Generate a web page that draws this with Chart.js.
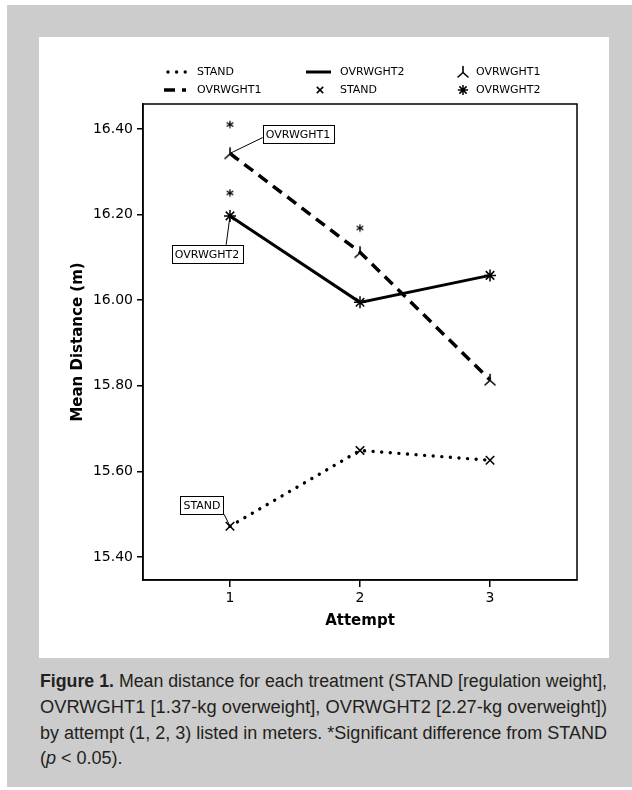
<!DOCTYPE html>
<html><head><meta charset="utf-8">
<script src="https://cdn.jsdelivr.net/npm/chart.js@4/dist/chart.umd.min.js"></script>
<style>
html,body{margin:0;padding:0;background:#fff;width:632px;height:790px;overflow:hidden;}
#gray{position:absolute;left:7px;top:5px;width:625px;height:782px;background:#cccccc;}
#panel{position:absolute;left:39px;top:37px;width:570px;height:621px;background:#fff;}
#wrap{position:absolute;left:0;top:0;width:632px;height:660px;}
.cap{position:absolute;left:40px;font-family:"Liberation Sans",Arial,sans-serif;font-size:18px;line-height:20px;color:#231f20;white-space:nowrap;transform-origin:0 50%;display:inline-block;}
</style></head>
<body>
<div id="gray"></div>
<div id="panel"></div>
<div id="wrap"><canvas id="c" width="632" height="660"></canvas></div>
<div class="cap fit" style="top:671px"><b>Figure 1.</b> Mean distance for each treatment (STAND [regulation weight],</div>
<div class="cap fit" style="top:697px">OVRWGHT1 [1.37-kg overweight], OVRWGHT2 [2.27-kg overweight])</div>
<div class="cap fit" style="top:723px">by attempt (1, 2, 3) listed in meters. *Significant difference from STAND</div>
<div class="cap sc" style="top:748px">(<i>p</i> &lt; 0.05).</div>
<script>
// ---- data ----
const attempts = [1, 2, 3];
const standMeans = [15.472, 15.649, 15.626];
const ovrwght1Means = [16.343, 16.112, 15.814];
const ovrwght2Means = [16.197, 15.995, 16.058];
const sigAttempts = [1, 1, 2];
const sigValues = [16.41, 16.25, 16.168];
const yTickValues = [15.40, 15.60, 15.80, 16.00, 16.20, 16.40];
const xTickValues = [1, 2, 3];
const seriesNames = ['STAND', 'OVRWGHT1', 'OVRWGHT2'];

// fit caption lines
let capScale = 1;
document.querySelectorAll('.cap.fit').forEach(el => {
  const w = el.getBoundingClientRect().width;
  capScale = 567 / w;
  el.style.transform = 'scaleX(' + capScale + ')';
});
document.querySelectorAll('.cap.sc').forEach(el => { el.style.transform = 'scaleX(' + capScale + ')'; });

// custom marker for OVRWGHT1 (inverted Y)
function makeOvr1Marker() {
  const m = document.createElement('canvas');
  m.width = 14; m.height = 14;
  const c = m.getContext('2d');
  c.strokeStyle = '#000'; c.lineWidth = 1.6; c.lineCap = 'round';
  c.beginPath();
  c.moveTo(7, 7.5); c.lineTo(7, 1.5);
  c.moveTo(7, 7.5); c.lineTo(2, 12);
  c.moveTo(7, 7.5); c.lineTo(12, 12);
  c.stroke();
  return m;
}
function makeAsterisk() {
  const m = document.createElement('canvas');
  m.width = 14; m.height = 14;
  const c = m.getContext('2d');
  c.fillStyle = '#000';
  c.font = 'bold 15px "DejaVu Sans"';
  c.textAlign = 'center'; c.textBaseline = 'alphabetic';
  c.fillText('*', 7, 7 + 8);
  return m;
}
const ovr1Marker = makeOvr1Marker();
const asterisk = makeAsterisk();

const pts = vals => attempts.map((a, i) => ({x: a, y: vals[i]}));

const datasets = [
  {label: 'STAND', data: pts(standMeans), borderColor: '#000', borderWidth: 3.4,
   borderDash: [0.01, 8.6], borderCapStyle: 'round', pointStyle: 'crossRot',
   pointRadius: 6, pointBorderWidth: 1.6, pointBorderColor: '#000', pointBackgroundColor: '#000', fill: false, tension: 0},
  {label: 'OVRWGHT1', data: pts(ovrwght1Means), borderColor: '#000', borderWidth: 3.5,
   borderDash: [11, 7], borderCapStyle: 'butt', pointStyle: ovr1Marker,
   pointRadius: 6, fill: false, tension: 0},
  {label: 'OVRWGHT2', data: pts(ovrwght2Means), borderColor: '#000', borderWidth: 3,
   pointStyle: 'star', pointRadius: 6, pointBorderWidth: 1.5, pointBorderColor: '#000', fill: false, tension: 0},
  {label: 'sig', data: sigAttempts.map((a, i) => ({x: a, y: sigValues[i]})), showLine: false,
   pointStyle: asterisk, pointRadius: 7}
];

const H = Chart.helpers;

const framePlugin = {
  id: 'frame',
  afterDraw(chart) {
    const {ctx, chartArea: a} = chart;
    ctx.save();
    ctx.strokeStyle = '#000'; ctx.lineWidth = 1.5;
    ctx.strokeRect(a.left, a.top, a.right - a.left, a.bottom - a.top);
    ctx.restore();
  }
};

const calloutPlugin = {
  id: 'callouts',
  afterDatasetsDraw(chart) {
    const {ctx} = chart;
    const xs = chart.scales.x, ys = chart.scales.y;
    const specs = [
      {ds: 1, idx: 0, text: seriesNames[1], dx: 68, dy: -19, lx: 33, ly: -16},
      {ds: 2, idx: 0, text: seriesNames[2], dx: -23, dy: 38, lx: -4, ly: 30},
      {ds: 0, idx: 0, text: seriesNames[0], dx: -28, dy: -21, lx: -6, ly: -12}
    ];
    ctx.save();
    ctx.font = '11px "DejaVu Sans"';
    ctx.textAlign = 'center'; ctx.textBaseline = 'middle';
    specs.forEach(s => {
      const p = chart.data.datasets[s.ds].data[s.idx];
      const px = xs.getPixelForValue(p.x), py = ys.getPixelForValue(p.y);
      ctx.strokeStyle = '#000'; ctx.lineWidth = 1;
      ctx.beginPath(); ctx.moveTo(px + s.lx, py + s.ly); ctx.lineTo(px, py); ctx.stroke();
      const w = ctx.measureText(s.text).width + 6, h = 18;
      const cx = px + s.dx, cy = py + s.dy;
      ctx.fillStyle = '#fff';
      ctx.fillRect(cx - w / 2, cy - h / 2, w, h);
      ctx.strokeRect(Math.round(cx - w / 2) + 0.5, Math.round(cy - h / 2) + 0.5, Math.round(w), h);
      ctx.fillStyle = '#000';
      ctx.fillText(s.text, cx, cy + 1);
    });
    ctx.restore();
  }
};

const legendPlugin = {
  id: 'customLegend',
  afterDraw(chart) {
    const {ctx} = chart;
    const d = chart.data.datasets;
    ctx.save();
    ctx.font = '11px "DejaVu Sans"';
    ctx.fillStyle = '#000'; ctx.textBaseline = 'middle'; ctx.textAlign = 'left';
    const line = (ds, x0, x1, y) => {
      ctx.save();
      ctx.strokeStyle = '#000'; ctx.lineWidth = ds.borderWidth;
      ctx.lineCap = ds.borderCapStyle || 'butt';
      ctx.setLineDash(ds.borderDash || []);
      ctx.beginPath(); ctx.moveTo(x0, y); ctx.lineTo(x1, y); ctx.stroke();
      ctx.restore();
    };
    const point = (ds, x, y, k) => {
      ctx.save();
      ctx.strokeStyle = '#000'; ctx.fillStyle = '#000';
      ctx.lineWidth = ds.pointBorderWidth || 1.5;
      H.drawPoint(ctx, {pointStyle: ds.pointStyle, radius: ds.pointRadius * k, rotation: 0, borderWidth: ds.pointBorderWidth || 1.5}, x, y);
      ctx.restore();
    };
    const r1 = 72, r2 = 90;
    line(d[0], 168, 187, r1); ctx.fillText(d[0].label, 197, r1);
    line(d[2], 306, 331, r1); ctx.fillText(d[2].label, 340, r1);
    point(d[1], 463, r1, 0.85); ctx.fillText(d[1].label, 476, r1);
    line(d[1], 164, 186, r2); ctx.fillText(d[1].label, 197, r2);
    point(d[0], 320, r2, 0.75); ctx.fillText(d[0].label, 340, r2);
    point(d[2], 463, r2, 0.85); ctx.fillText(d[2].label, 476, r2);
    ctx.restore();
  }
};

new Chart(document.getElementById('c'), {
  type: 'line',
  data: {datasets},
  options: {
    responsive: false,
    animation: false,
    devicePixelRatio: 1,
    layout: {padding: {top: 104, right: 55, left: 0, bottom: 0}},
    plugins: {legend: {display: false}, tooltip: {enabled: false}},
    scales: {
      x: {
        type: 'linear', min: 0.3308, max: 3.669,
        afterBuildTicks: s => { s.ticks = xTickValues.map(v => ({value: v})); },
        afterFit: s => { s.height = 80; },
        ticks: {callback: v => String(v), font: {family: 'DejaVu Sans', size: 14}, color: '#000', padding: 3, maxRotation: 0},
        grid: {display: true, drawOnChartArea: false, drawTicks: true, tickLength: 7, color: '#000', lineWidth: 1.5},
        border: {display: true, color: '#000', width: 1.5},
        title: {display: true, text: 'Attempt', font: {family: 'DejaVu Sans', size: 15, weight: 'bold'}, color: '#000', padding: {top: 0, bottom: 30}}
      },
      y: {
        type: 'linear', min: 15.3463, max: 16.4584,
        afterBuildTicks: s => { s.ticks = yTickValues.map(v => ({value: v})); },
        afterFit: s => { s.width = 143; },
        ticks: {callback: v => Number(v).toFixed(2), font: {family: 'DejaVu Sans', size: 14}, color: '#000', padding: 4},
        grid: {display: true, drawOnChartArea: false, drawTicks: true, tickLength: 6, color: '#000', lineWidth: 1.5},
        border: {display: true, color: '#000', width: 1.5},
        title: {display: true, text: 'Mean Distance (m)', font: {family: 'DejaVu Sans', size: 15, weight: 'bold'}, color: '#000', padding: {top: 69, bottom: 0}}
      }
    }
  },
  plugins: [framePlugin, calloutPlugin, legendPlugin]
});
</script>
</body></html>
